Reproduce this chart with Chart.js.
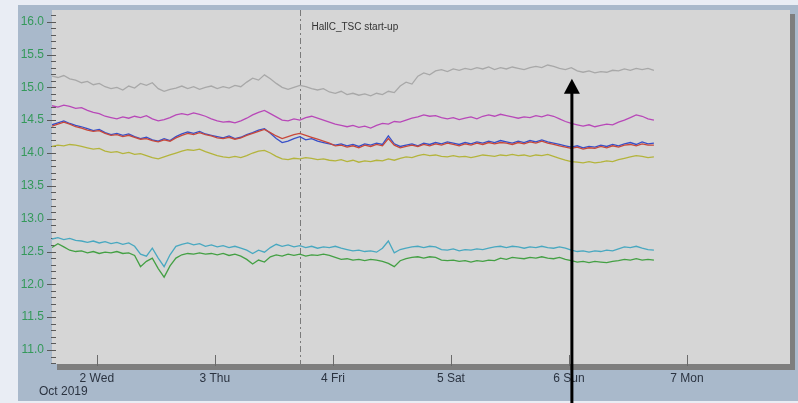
<!DOCTYPE html>
<html>
<head>
<meta charset="utf-8">
<title>Hall C temperatures</title>
<script src="https://cdn.jsdelivr.net/npm/chart.js@4.4.1/dist/chart.umd.min.js"></script>
<style>
  html, body { margin: 0; padding: 0; background: #e9edf4; }
  #wrap { position: relative; width: 798px; height: 403px; }
</style>
</head>
<body>
<div id="wrap"><canvas id="trend"></canvas></div>
<script>
// readings start on Oct 1, ~15:00 and come every 1.2 h (x unit = day of month)
const sampleStart = 1.62;
const sampleStep = 0.05;

const dayTicks = [2, 3, 4, 5, 6, 7];
const dayNames = ['2 Wed', '3 Thu', '4 Fri', '5 Sat', '6 Sun', '7 Mon'];
const monthLabel = 'Oct 2019';

// minor marks every 0.1 degC, labels every 0.5
const tempTickFirst = 10.8;
const tempTickLast = 16.1;

const startupDay = 3.72;
const startupLabel = 'HallC_TSC start-up';
const arrowDay = 6.025;
const arrowValue = 15.13;

const greyTemp = [
  15.17, 15.15, 15.18, 15.13, 15.11, 15.07, 15.09, 15.04, 15.06, 15.01,
  14.98, 15.00, 14.96, 15.02, 14.99, 15.06, 15.03, 15.07, 14.98, 14.94,
  14.97, 14.99, 15.02, 14.98, 15.01, 14.97, 15.00, 15.02, 14.98, 15.01,
  14.99, 15.03, 15.01, 15.08, 15.14, 15.11, 15.19, 15.13, 15.06, 15.00,
  14.97, 15.00, 15.03, 15.01, 14.98, 14.96, 14.98, 14.93, 14.91, 14.94,
  14.89, 14.91, 14.88, 14.90, 14.87, 14.91, 14.89, 14.94, 14.92, 15.02,
  15.08, 15.05, 15.17, 15.22, 15.19, 15.25, 15.27, 15.24, 15.28, 15.26,
  15.29, 15.27, 15.30, 15.28, 15.31, 15.27, 15.30, 15.28, 15.31, 15.29,
  15.27, 15.30, 15.32, 15.30, 15.34, 15.32, 15.29, 15.27, 15.30, 15.25,
  15.23, 15.25, 15.22, 15.24, 15.23, 15.26, 15.25, 15.28, 15.26, 15.29,
  15.27, 15.29, 15.26
];

const magentaTemp = [
  14.72, 14.70, 14.73, 14.71, 14.68, 14.69, 14.65, 14.62, 14.60, 14.56,
  14.54, 14.52, 14.55, 14.53, 14.56, 14.54, 14.57, 14.52, 14.49, 14.51,
  14.54, 14.58, 14.60, 14.58, 14.61, 14.59, 14.56, 14.52, 14.49, 14.47,
  14.48, 14.46, 14.49, 14.53, 14.58, 14.62, 14.65, 14.60, 14.55, 14.50,
  14.49, 14.52, 14.50, 14.54, 14.56, 14.53, 14.50, 14.47, 14.44, 14.42,
  14.40, 14.42, 14.39, 14.41, 14.38, 14.42, 14.45, 14.44, 14.48, 14.47,
  14.50, 14.53, 14.55, 14.58, 14.56, 14.57, 14.54, 14.52, 14.54, 14.51,
  14.53, 14.55, 14.52, 14.56, 14.58, 14.56, 14.59, 14.57, 14.55, 14.53,
  14.55, 14.54, 14.57, 14.55, 14.58, 14.56, 14.52, 14.48, 14.45, 14.43,
  14.41, 14.43, 14.40, 14.42, 14.44, 14.43, 14.47, 14.50, 14.54, 14.58,
  14.56, 14.52, 14.50
];

const blueTemp = [
  14.43, 14.46, 14.49, 14.45, 14.42, 14.40, 14.37, 14.34, 14.36, 14.31,
  14.28, 14.30, 14.27, 14.29, 14.25, 14.22, 14.24, 14.20, 14.18, 14.22,
  14.19, 14.25, 14.29, 14.32, 14.30, 14.33, 14.29, 14.27, 14.25, 14.23,
  14.26, 14.22, 14.24, 14.28, 14.31, 14.35, 14.37, 14.30, 14.22, 14.16,
  14.18, 14.22, 14.25, 14.20, 14.22, 14.18, 14.16, 14.14, 14.12, 14.14,
  14.11, 14.13, 14.10, 14.14, 14.12, 14.15, 14.13, 14.26, 14.14, 14.10,
  14.12, 14.14, 14.11, 14.15, 14.13, 14.16, 14.14, 14.17, 14.15, 14.13,
  14.16, 14.14, 14.17, 14.15, 14.18, 14.16, 14.19, 14.17, 14.15, 14.18,
  14.16, 14.19, 14.17, 14.20, 14.17, 14.15, 14.13, 14.11, 14.09, 14.11,
  14.08, 14.10, 14.09, 14.12, 14.10, 14.13, 14.11, 14.14, 14.16, 14.13,
  14.17, 14.14, 14.15
];

const redTemp = [
  14.41, 14.44, 14.47, 14.44, 14.40, 14.38, 14.35, 14.33, 14.34, 14.30,
  14.27, 14.28, 14.25, 14.27, 14.24, 14.21, 14.22, 14.19, 14.17, 14.20,
  14.18, 14.23, 14.27, 14.30, 14.28, 14.31, 14.28, 14.26, 14.23, 14.22,
  14.24, 14.21, 14.23, 14.27, 14.30, 14.33, 14.36, 14.31, 14.26, 14.22,
  14.25, 14.28, 14.30, 14.27, 14.24, 14.21, 14.18, 14.15, 14.11, 14.12,
  14.09, 14.11, 14.08, 14.12, 14.10, 14.13, 14.11, 14.22, 14.12, 14.08,
  14.10, 14.12, 14.10, 14.13, 14.11, 14.14, 14.12, 14.15, 14.13, 14.11,
  14.14, 14.12, 14.15, 14.13, 14.16, 14.14, 14.16, 14.15, 14.13, 14.16,
  14.14, 14.17, 14.15, 14.18, 14.15, 14.13, 14.11, 14.09, 14.07, 14.09,
  14.06, 14.08, 14.07, 14.10, 14.08, 14.11, 14.09, 14.12, 14.13, 14.11,
  14.14, 14.12, 14.12
];

const oliveTemp = [
  14.10, 14.12, 14.11, 14.13, 14.12, 14.10, 14.08, 14.06, 14.07, 14.03,
  14.01, 14.02, 13.99, 14.01, 13.98, 13.99, 13.96, 13.93, 13.91, 13.94,
  13.97, 14.00, 14.03, 14.05, 14.04, 14.06, 14.02, 13.99, 13.96, 13.94,
  13.93, 13.95, 13.93, 13.96, 14.00, 14.03, 14.04, 14.00, 13.95, 13.91,
  13.90, 13.92, 13.91, 13.93, 13.92, 13.90, 13.91, 13.89, 13.88, 13.90,
  13.87, 13.89, 13.86, 13.88, 13.87, 13.89, 13.88, 13.91, 13.89, 13.92,
  13.94, 13.93, 13.96, 13.98, 13.96, 13.97, 13.95, 13.94, 13.96, 13.94,
  13.95, 13.93, 13.95, 13.97, 13.96, 13.95, 13.97, 13.96, 13.98, 13.96,
  13.97, 13.95, 13.97, 13.96, 13.98, 13.95, 13.92, 13.89, 13.87, 13.86,
  13.85, 13.87, 13.85, 13.86, 13.88, 13.87, 13.90, 13.92, 13.94, 13.96,
  13.95, 13.93, 13.94
];

const tealTemp = [
  12.69, 12.71, 12.68, 12.70, 12.67, 12.66, 12.64, 12.66, 12.63, 12.65,
  12.62, 12.64, 12.61, 12.63, 12.58, 12.46, 12.43, 12.55, 12.40, 12.27,
  12.45, 12.58, 12.61, 12.63, 12.60, 12.62, 12.58, 12.60, 12.57, 12.59,
  12.56, 12.58, 12.55, 12.52, 12.47, 12.52, 12.49, 12.56, 12.61, 12.58,
  12.60, 12.57, 12.59, 12.56, 12.58, 12.55, 12.57, 12.56, 12.58, 12.55,
  12.53, 12.51, 12.52, 12.50, 12.51, 12.49, 12.55, 12.66, 12.48, 12.53,
  12.55, 12.57, 12.58, 12.56, 12.58, 12.57, 12.53, 12.52, 12.54, 12.51,
  12.53, 12.52, 12.54, 12.53, 12.55, 12.57, 12.58, 12.56, 12.58, 12.57,
  12.55, 12.57, 12.56, 12.58, 12.56, 12.55, 12.57, 12.55, 12.52, 12.50,
  12.51, 12.49, 12.51, 12.50, 12.52, 12.51, 12.54, 12.57, 12.56, 12.58,
  12.55, 12.53, 12.52
];

const greenTemp = [
  12.56, 12.62, 12.57, 12.52, 12.50, 12.51, 12.48, 12.50, 12.47, 12.49,
  12.48, 12.50, 12.47, 12.48, 12.44, 12.27, 12.35, 12.40, 12.24, 12.11,
  12.28, 12.40, 12.45, 12.47, 12.46, 12.48, 12.46, 12.47, 12.45, 12.47,
  12.44, 12.46, 12.43, 12.38, 12.31, 12.37, 12.34, 12.42, 12.45, 12.43,
  12.46, 12.44, 12.46, 12.43, 12.45, 12.44, 12.46, 12.44, 12.41, 12.38,
  12.39, 12.37, 12.38, 12.36, 12.38, 12.37, 12.35, 12.32, 12.27, 12.36,
  12.39, 12.41, 12.42, 12.40, 12.42, 12.41, 12.37, 12.36, 12.37, 12.35,
  12.36, 12.34, 12.36, 12.35, 12.37, 12.36, 12.40, 12.38, 12.41, 12.40,
  12.39, 12.41, 12.40, 12.42, 12.40, 12.39, 12.41, 12.38, 12.36, 12.34,
  12.35, 12.33, 12.35, 12.34, 12.33, 12.35, 12.36, 12.38, 12.37, 12.39,
  12.37, 12.38, 12.37
];

function toPoints(values) {
    return values.map((v, i) => ({ x: +(sampleStart + i * sampleStep).toFixed(2), y: v }));
}

function trace(values, color) {
    return {
        data: toPoints(values),
        borderColor: color,
        borderWidth: 1.3,
        pointRadius: 0,
        tension: 0
    };
}

function isHalfStep(v) {
    return Math.abs(v * 2 - Math.round(v * 2)) < 1e-6;
}

// panel, plot shadow, tick marks, start-up marker and the pointer arrow
const trendFrame = {
    id: 'trendFrame',
    beforeDraw(chart) {
        const { ctx, chartArea: a, width, height } = chart;
        ctx.save();
        ctx.fillStyle = '#e9edf4';
        ctx.fillRect(0, 0, width, height);
        ctx.fillStyle = '#a9b9cb';
        ctx.fillRect(18, 5, width - 18, height - 7);
        ctx.fillStyle = '#7e7e7e';
        ctx.fillRect(a.left + 5, a.top + 4, a.width, a.height + 2);
        ctx.fillStyle = '#d6d6d6';
        ctx.fillRect(a.left, a.top, a.width, a.height);
        ctx.restore();
    },
    beforeDatasetsDraw(chart) {
        const { ctx, chartArea: a, scales: { x, y } } = chart;
        ctx.save();
        ctx.strokeStyle = '#5a5a5a';
        ctx.lineWidth = 1;
        y.ticks.forEach(t => {
            const py = Math.round(y.getPixelForValue(t.value)) + 0.5;
            ctx.beginPath();
            ctx.moveTo(isHalfStep(t.value) ? a.left - 5 : a.left - 1, py);
            ctx.lineTo(a.left + 4, py);
            ctx.stroke();
        });
        ctx.strokeStyle = '#6a6a6a';
        dayTicks.forEach(d => {
            const px = Math.round(x.getPixelForValue(d)) + 0.5;
            ctx.beginPath();
            ctx.moveTo(px, a.bottom - 9);
            ctx.lineTo(px, a.bottom + 2);
            ctx.stroke();
        });
        // start-up marker
        const sx = Math.round(x.getPixelForValue(startupDay)) + 0.5;
        ctx.strokeStyle = '#7a7a7a';
        ctx.setLineDash([6, 3, 2, 3]);
        ctx.beginPath();
        ctx.moveTo(sx, a.top);
        ctx.lineTo(sx, a.bottom);
        ctx.stroke();
        ctx.setLineDash([]);
        ctx.fillStyle = '#333333';
        ctx.font = '10px "Liberation Sans", Arial, sans-serif';
        ctx.textBaseline = 'middle';
        ctx.fillText(startupLabel, sx + 11, a.top + 17);
        ctx.fillStyle = '#2b3340';
        ctx.font = '12px "Liberation Sans", Arial, sans-serif';
        ctx.fillText(monthLabel, 39, 392);
        ctx.restore();
    },
    afterDraw(chart) {
        const { ctx, scales: { x, y }, height } = chart;
        const ax = x.getPixelForValue(arrowDay);
        const tip = y.getPixelForValue(arrowValue);
        ctx.save();
        ctx.strokeStyle = '#000';
        ctx.fillStyle = '#000';
        ctx.lineWidth = 3;
        ctx.beginPath();
        ctx.moveTo(ax, tip + 12);
        ctx.lineTo(ax, height);
        ctx.stroke();
        ctx.beginPath();
        ctx.moveTo(ax, tip);
        ctx.lineTo(ax - 8, tip + 15);
        ctx.lineTo(ax + 8, tip + 15);
        ctx.closePath();
        ctx.fill();
        ctx.restore();
    }
};

new Chart(document.getElementById('trend'), {
    type: 'line',
    data: {
        datasets: [
            trace(greyTemp, '#a8a8a8'),
            trace(magentaTemp, '#b848b8'),
            trace(redTemp, '#c8483a'),
            trace(blueTemp, '#3850c8'),
            trace(oliveTemp, '#b4b43c'),
            trace(tealTemp, '#48a8c0'),
            trace(greenTemp, '#44a044')
        ]
    },
    options: {
        responsive: true,
        maintainAspectRatio: false,
        animation: false,
        layout: { padding: { top: 10, right: 8, left: 0, bottom: 0 } },
        plugins: {
            legend: { display: false },
            tooltip: { enabled: false }
        },
        scales: {
            x: {
                type: 'linear',
                min: 1.62,
                max: 7.873,
                afterFit(scale) { scale.height = 39; },
                afterBuildTicks(scale) { scale.ticks = dayTicks.map(v => ({ value: v })); },
                grid: { display: false, drawTicks: false },
                border: { display: false },
                ticks: {
                    padding: 7,
                    maxRotation: 0,
                    autoSkip: false,
                    color: '#2b3340',
                    font: { family: '"Liberation Sans", Arial, sans-serif', size: 12 },
                    callback: (v) => dayNames[dayTicks.indexOf(Math.round(v))]
                }
            },
            y: {
                min: 10.787,
                max: 16.178,
                afterFit(scale) {
                    scale.width = 52;
                    scale.paddingTop = 0;
                    scale.paddingBottom = 0;
                },
                afterBuildTicks(scale) {
                    const list = [];
                    for (let i = Math.round(tempTickFirst * 10); i <= Math.round(tempTickLast * 10); i++) {
                        list.push({ value: i / 10 });
                    }
                    scale.ticks = list;
                },
                grid: { display: false, drawTicks: false },
                border: { display: false },
                ticks: {
                    autoSkip: false,
                    padding: 8,
                    color: '#34995a',
                    font: { family: '"Liberation Sans", Arial, sans-serif', size: 12 },
                    callback: (v) => isHalfStep(v) ? v.toFixed(1) : ''
                }
            }
        }
    },
    plugins: [trendFrame]
});
</script>
</body>
</html>
